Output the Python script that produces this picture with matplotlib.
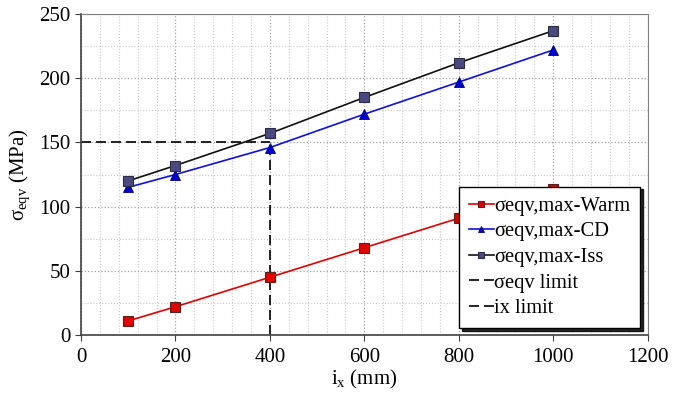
import matplotlib
matplotlib.use("Agg")
import matplotlib.pyplot as plt
from matplotlib.ticker import MultipleLocator

# data
ix = [100, 200, 400, 600, 800, 1000]
warm = [11, 22, 45, 68, 91, 114]
cd = [115, 125, 146, 172, 197, 222]
iss = [120, 132, 157, 185, 212, 237]
sigma_limit = 150
ix_limit = 400

plt.rcParams['font.family'] = ['Liberation Serif', 'DejaVu Serif']
plt.rcParams['mathtext.fontset'] = 'custom'
plt.rcParams['mathtext.rm'] = 'Liberation Serif'
plt.rcParams['mathtext.it'] = 'Liberation Serif'

fig = plt.figure(figsize=(6.95, 3.94), dpi=100)
ax = fig.add_axes([0.1165, 0.1497, 0.8155, 0.8148])

ax.plot(ix, warm, color='#e00000', lw=1.2, marker='s', ms=7,
        mfc='#e00000', mec='#5a2020', mew=0.8, label='σeqv,max-Warm', zorder=3)
ax.plot(ix, cd, color='#1010e0', lw=1.2, marker='^', ms=7,
        mfc='#0000d0', mec='#000080', mew=0.6, label='σeqv,max-CD', zorder=3)
ax.plot(ix, iss, color='#101010', lw=1.2, marker='s', ms=7,
        mfc='#4a4a80', mec='#2a2a40', mew=0.8, label='σeqv,max-Iss', zorder=3)
ax.plot([0, ix_limit], [sigma_limit, sigma_limit], color='black', lw=1.2,
        ls=(0, (6, 3)), label='σeqv limit', zorder=2)
ax.plot([ix_limit, ix_limit], [0, sigma_limit], color='black', lw=1.2,
        ls=(0, (6, 3)), label='ix limit', zorder=2)

ax.set_xlim(0, 1200)
ax.set_ylim(0, 250)
ax.xaxis.set_major_locator(MultipleLocator(200))
ax.xaxis.set_minor_locator(MultipleLocator(40))
ax.yaxis.set_major_locator(MultipleLocator(50))
ax.yaxis.set_minor_locator(MultipleLocator(25))
ax.grid(which='major', color='#a0a0a0', ls=':', lw=0.9)
ax.grid(which='minor', color='#c8c8c8', ls=':', lw=0.8)
ax.tick_params(which='major', labelsize=15, length=4, color='#404040')
ax.tick_params(which='minor', length=0)
ax.tick_params(axis='x', pad=5)

for side in ['top', 'right']:
    ax.spines[side].set_color('#808080')
for side in ['bottom', 'left']:
    ax.spines[side].set_color('#404040')
    ax.spines[side].set_linewidth(1.2)

ax.set_xlabel(r'i$_{\mathrm{x}}$ (mm)', fontsize=15, labelpad=1)
ax.set_ylabel(r'σ$_{\mathrm{eqv}}$ (MPa)', fontsize=15, labelpad=5)

leg = ax.legend(loc='lower right', bbox_to_anchor=(0.986, 0.022), fontsize=14.8,
                frameon=True, fancybox=False, borderaxespad=0,
                shadow={'color': 'black', 'alpha': 0.85, 'ox': 2, 'oy': -2},
                handlelength=1.2, handletextpad=0.0, borderpad=0.48,
                labelspacing=0.3, markerscale=0.7)
leg.get_frame().set_edgecolor('black')
leg.get_frame().set_linewidth(1.0)

fig.savefig('out.png', dpi=100)
